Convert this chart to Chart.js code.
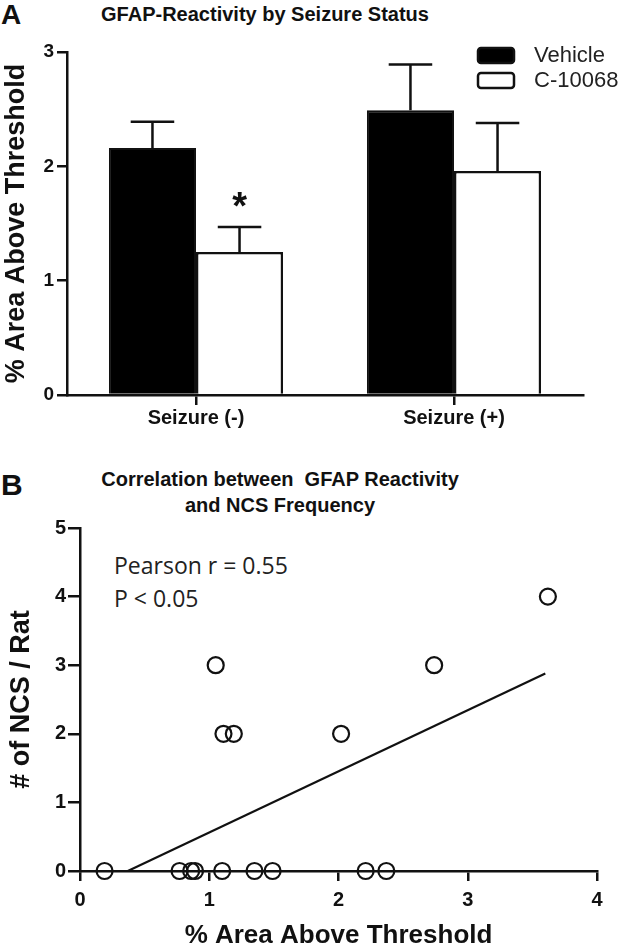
<!DOCTYPE html>
<html>
<head>
<meta charset="utf-8">
<script src="https://cdn.jsdelivr.net/npm/chart.js@4/dist/chart.umd.min.js"></script>
<style>
  body { margin: 0; background: #fff; width: 633px; height: 951px; position: relative; overflow: hidden; font-family: "Liberation Sans", Arial, sans-serif; color: #111; }
  .box { position: absolute; left: 0; width: 633px; }
  .lbl { position: absolute; font-weight: bold; white-space: nowrap; }
  .ttl { position: absolute; transform: translateX(-50%); text-align: center; white-space: nowrap; font-weight: bold; font-size: 20px; line-height: 26px; }
  .note { position: absolute; left: 114px; font-family: "Open Sans", sans-serif; font-size: 23px; color: #222; line-height: 33px; }
</style>
</head>
<body>
<div class="lbl" style="left:1px; top:-1px; font-size:28px;">A</div>
<div class="ttl" style="left:265px; top:1px;">GFAP-Reactivity by Seizure Status</div>
<div class="box" style="top:0; height:440px;"><canvas id="chartBars" width="633" height="440"></canvas></div>

<div class="lbl" style="left:1px; top:468px; font-size:30px;">B</div>
<div class="ttl" style="left:280px; top:466px;">Correlation between&nbsp; GFAP Reactivity<br>and NCS Frequency</div>
<div class="note" style="top:549px;">Pearson r = 0.55<br>P &lt; 0.05</div>
<div class="box" style="top:440px; height:511px;"><canvas id="chartScatter" width="633" height="511"></canvas></div>

<script>
(function () {
  // --- data, panel A ---
  const groups = ["Seizure (-)", "Seizure (+)"];
  const vehicleMean = [2.16, 2.49];
  const vehicleErr = [0.23, 0.40];
  const drugMean = [1.25, 1.96];
  const drugErr = [0.22, 0.42];
  const drugStar = [true, false];

  // --- data, panel B ---
  const gfapX = [0.19, 0.77, 0.86, 0.89, 1.10, 1.35, 1.49, 2.21, 2.37, 1.05, 1.11, 1.19, 2.02, 2.74, 3.62];
  const ncsY = [0, 0, 0, 0, 0, 0, 0, 0, 0, 3, 2, 2, 2, 3, 4];
  const fitX = [0.37, 3.60];
  const fitY = [0.00, 2.88];

  const ink = "#111";
  const bold = { family: "'Liberation Sans', Arial, sans-serif", weight: "bold" };

  // error bars + significance star, drawn from the bar elements
  const errorBars = {
    id: "errorBars",
    afterDatasetsDraw(chart) {
      const ctx = chart.ctx;
      const y = chart.scales.y;
      ctx.save();
      ctx.strokeStyle = ink;
      ctx.lineWidth = 2.5;
      chart.data.datasets.forEach((ds, di) => {
        const meta = chart.getDatasetMeta(di);
        meta.data.forEach((bar, i) => {
          const top = y.getPixelForValue(ds.data[i] + ds.errors[i]);
          const half = bar.width / 4;
          ctx.beginPath();
          ctx.moveTo(bar.x, bar.y);
          ctx.lineTo(bar.x, top);
          ctx.moveTo(bar.x - half, top);
          ctx.lineTo(bar.x + half, top);
          ctx.stroke();
          if (ds.stars && ds.stars[i]) {
            ctx.fillStyle = ink;
            ctx.font = "bold 38px 'Liberation Sans', Arial, sans-serif";
            ctx.textAlign = "center";
            ctx.textBaseline = "middle";
            ctx.fillText("*", bar.x, top - 18);
          }
        });
      });
      ctx.restore();
    }
  };

  // legend inside the plot, top right
  const boxLegend = {
    id: "boxLegend",
    afterDraw(chart) {
      const ctx = chart.ctx;
      ctx.save();
      chart.data.datasets.forEach((ds, i) => {
        const bx = 478, by = 48 + i * 25;
        ctx.beginPath();
        ctx.roundRect(bx, by, 36, 15, 3);
        ctx.fillStyle = ds.backgroundColor;
        ctx.fill();
        ctx.lineWidth = 2.5;
        ctx.strokeStyle = ink;
        ctx.stroke();
        ctx.fillStyle = "#222";
        ctx.font = "22px 'Liberation Sans', Arial, sans-serif";
        ctx.textBaseline = "middle";
        ctx.textAlign = "left";
        ctx.fillText(ds.label, 534, by + 8);
      });
      ctx.restore();
    }
  };

  new Chart(document.getElementById("chartBars").getContext("2d"), {
    type: "bar",
    data: {
      labels: groups,
      datasets: [
        { label: "Vehicle", data: vehicleMean, errors: vehicleErr, backgroundColor: "#000", borderColor: ink, borderWidth: 2 },
        { label: "C-10068", data: drugMean, errors: drugErr, stars: drugStar, backgroundColor: "#fff", borderColor: ink, borderWidth: 2.5 }
      ]
    },
    options: {
      responsive: false,
      animation: false,
      events: [],
      layout: { padding: { top: 52, left: 0, right: 50, bottom: 0 } },
      plugins: { legend: { display: false }, tooltip: { enabled: false } },
      datasets: { bar: { barPercentage: 1, categoryPercentage: 0.675 } },
      scales: {
        x: {
          afterFit(s) { s.height = 45; },
          grid: { display: true, offset: false, drawOnChartArea: false, drawTicks: true, tickLength: 10, color: ink, lineWidth: 2.5 },
          border: { display: true, color: ink, width: 2.5 },
          ticks: { color: ink, font: Object.assign({ size: 20 }, bold), padding: 1 },
        },
        y: {
          min: 0, max: 3,
          afterFit(s) { s.width = 67; },
          grid: { display: true, drawOnChartArea: false, drawTicks: true, tickLength: 10, color: ink, lineWidth: 2.5 },
          border: { display: true, color: ink, width: 2.5 },
          ticks: { stepSize: 1, color: ink, font: Object.assign({ size: 19 }, bold), padding: 3 },
          title: { display: true, text: "% Area Above Threshold", color: ink, font: Object.assign({ size: 27 }, bold), padding: { top: 0, bottom: 0 } }
        }
      }
    },
    plugins: [errorBars, boxLegend]
  });

  const points = gfapX.map((x, i) => ({ x: x, y: ncsY[i] }));
  const fit = fitX.map((x, i) => ({ x: x, y: fitY[i] }));

  new Chart(document.getElementById("chartScatter").getContext("2d"), {
    type: "scatter",
    data: {
      datasets: [
        { label: "Rats", data: points, pointRadius: 8, pointBorderWidth: 2.2, pointBorderColor: ink, pointBackgroundColor: "rgba(0,0,0,0)", clip: false },
        { type: "line", label: "Fit", data: fit, borderColor: ink, borderWidth: 2.2, pointRadius: 0, fill: false }
      ]
    },
    options: {
      responsive: false,
      animation: false,
      events: [],
      layout: { padding: { top: 88, left: 0, right: 36, bottom: 0 } },
      plugins: { legend: { display: false }, tooltip: { enabled: false } },
      scales: {
        x: {
          type: "linear", min: 0, max: 4,
          afterFit(s) { s.height = 80; },
          grid: { display: true, drawOnChartArea: false, drawTicks: true, tickLength: 10, color: ink, lineWidth: 2.5 },
          border: { display: true, color: ink, width: 2.5 },
          ticks: { stepSize: 1, color: ink, font: Object.assign({ size: 20 }, bold), padding: 7 },
          title: { display: true, text: "% Area Above Threshold", color: ink, font: Object.assign({ size: 26 }, bold), padding: { top: 1, bottom: 0 } }
        },
        y: {
          type: "linear", min: 0, max: 5,
          afterFit(s) { s.width = 80; },
          grid: { display: true, drawOnChartArea: false, drawTicks: true, tickLength: 12, color: ink, lineWidth: 2.5 },
          border: { display: true, color: ink, width: 2.5 },
          ticks: { stepSize: 1, color: ink, font: Object.assign({ size: 20 }, bold), padding: 2 },
          title: { display: true, text: "# of NCS / Rat", color: ink, font: Object.assign({ size: 27 }, bold), padding: { top: 5, bottom: 0 } }
        }
      }
    }
  });
})();
</script>
</body>
</html>
